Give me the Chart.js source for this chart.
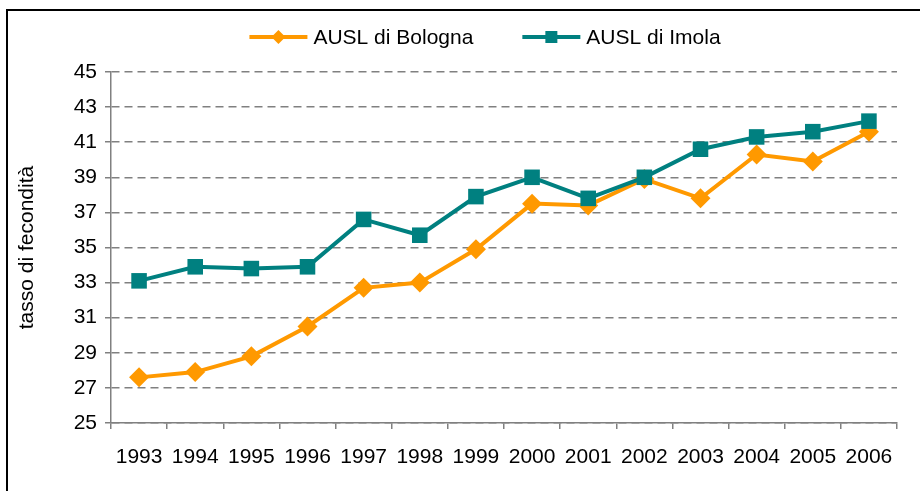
<!DOCTYPE html>
<html>
<head>
<meta charset="utf-8">
<script src="https://cdn.jsdelivr.net/npm/chart.js@4/dist/chart.umd.min.js"></script>
<style>
  html, body { margin: 0; padding: 0; background: #fff; }
  #wrap { position: relative; width: 920px; height: 491px; overflow: hidden; }
  #frame { position: absolute; left: 6px; top: 9px; width: 1000px; height: 600px; border: 2px solid #000; box-sizing: border-box; pointer-events: none; }
  canvas { display: block; }
</style>
</head>
<body>
<div id="wrap">
  <canvas id="c" width="920" height="491"></canvas>
  <div id="frame"></div>
</div>
<script>
const years = ['1993','1994','1995','1996','1997','1998','1999','2000','2001','2002','2003','2004','2005','2006'];
const bologna = [27.6, 27.9, 28.8, 30.5, 32.7, 33.0, 34.9, 37.5, 37.4, 38.9, 37.8, 40.3, 39.9, 41.6];
const imola   = [33.1, 33.9, 33.8, 33.9, 36.6, 35.7, 37.9, 39.0, 37.8, 39.0, 40.6, 41.3, 41.6, 42.2];
const yTicks  = [25, 27, 29, 31, 33, 35, 37, 39, 41, 43, 45];
const seriesNames = ['AUSL di Bologna', 'AUSL di Imola'];
const yTitle = 'tasso di fecondità';

const ORANGE = '#FF9900';
const TEAL = '#008080';
const FONT = "'Liberation Sans', Arial, sans-serif";

// Legend drawn as line + marker + text, centred above the plot
const legendPlugin = {
  id: 'lineLegend',
  afterDraw(chart) {
    const ctx = chart.ctx;
    const y = 37;
    const lineLen = 58, gapText = 6, gapItems = 49;
    ctx.save();
    ctx.font = '21px ' + FONT;
    const widths = chart.data.datasets.map(ds => ctx.measureText(ds.label).width);
    const total = widths.reduce((s, w) => s + lineLen + gapText + w, 0) + gapItems * (widths.length - 1);
    let x = 485 - total / 2;
    chart.data.datasets.forEach((ds, i) => {
      ctx.strokeStyle = ds.borderColor;
      ctx.lineWidth = 4;
      ctx.beginPath(); ctx.moveTo(x, y); ctx.lineTo(x + lineLen, y); ctx.stroke();
      const cx = x + lineLen / 2;
      ctx.fillStyle = ds.borderColor;
      ctx.beginPath();
      if (ds.pointStyle === 'rectRot') {
        ctx.moveTo(cx, y - 7); ctx.lineTo(cx + 7, y); ctx.lineTo(cx, y + 7); ctx.lineTo(cx - 7, y); ctx.closePath();
      } else {
        ctx.rect(cx - 6, y - 6, 12, 12);
      }
      ctx.fill();
      ctx.fillStyle = '#000';
      ctx.textAlign = 'left';
      ctx.textBaseline = 'middle';
      ctx.fillText(ds.label, x + lineLen + gapText, y + 1);
      x += lineLen + gapText + widths[i] + gapItems;
    });
    ctx.restore();
  }
};

new Chart(document.getElementById('c'), {
  type: 'line',
  data: {
    labels: years,
    datasets: [
      {
        label: seriesNames[0], data: bologna, order: 1,
        borderColor: ORANGE, backgroundColor: ORANGE, borderWidth: 4,
        pointStyle: 'rectRot', pointRadius: 10, pointHoverRadius: 10,
        pointBackgroundColor: ORANGE, pointBorderColor: ORANGE, pointBorderWidth: 0,
        tension: 0, fill: false
      },
      {
        label: seriesNames[1], data: imola, order: 0,
        borderColor: TEAL, backgroundColor: TEAL, borderWidth: 4,
        pointStyle: 'rect', pointRadius: 11, pointHoverRadius: 11,
        pointBackgroundColor: TEAL, pointBorderColor: TEAL, pointBorderWidth: 0,
        tension: 0, fill: false
      }
    ]
  },
  plugins: [legendPlugin],
  options: {
    responsive: false,
    animation: false,
    layout: { padding: { left: 0, right: 23, top: 72, bottom: 0 } },
    plugins: {
      tooltip: { enabled: false },
      legend: { display: false }
    },
    scales: {
      x: {
        type: 'category',
        offset: true,
        afterFit: (s) => { s.height = 68; },
        grid: { display: true, drawOnChartArea: false, drawTicks: true, tickLength: 6, offset: true, color: '#808080', lineWidth: 1.5 },
        border: { display: true, color: '#808080', width: 1.5 },
        ticks: { color: '#000', font: { family: FONT, size: 21 }, padding: 16, maxRotation: 0, autoSkip: false }
      },
      y: {
        min: 25, max: 45,
        afterFit: (s) => { s.width = 111; },
        afterBuildTicks: (s) => { s.ticks = yTicks.map(v => ({ value: v })); },
        grid: { color: '#808080', lineWidth: 1.5, drawTicks: true, tickLength: 6, tickColor: '#808080' },
        border: { display: true, color: '#808080', width: 1.5, dash: [8, 5] },
        ticks: { color: '#000', font: { family: FONT, size: 21 }, padding: 8 },
        title: { display: true, text: yTitle, color: '#000', font: { family: FONT, size: 21 }, padding: { top: 15, bottom: 0 } }
      }
    }
  }
});
</script>
</body>
</html>
